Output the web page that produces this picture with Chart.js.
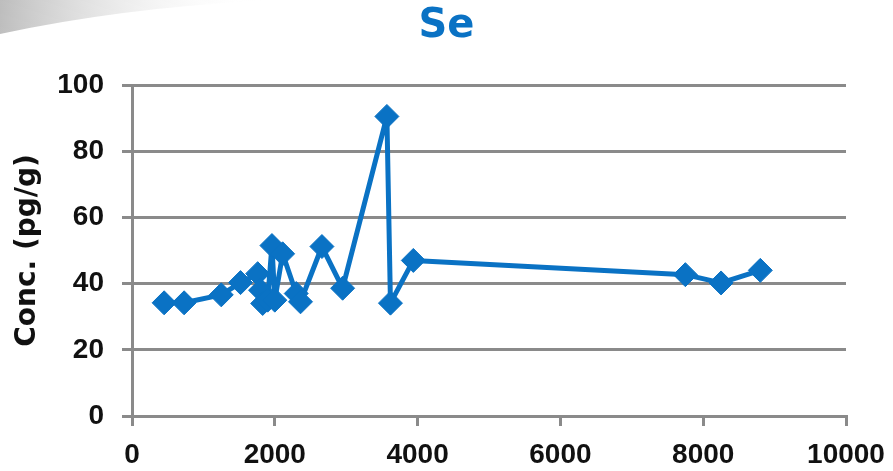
<!DOCTYPE html>
<html>
<head>
<meta charset="utf-8">
<script src="https://cdn.jsdelivr.net/npm/chart.js@4"></script>
<style>
  html, body { margin: 0; padding: 0; background: #fff; }
  #wrap { width: 893px; height: 471px; position: relative; }
</style>
</head>
<body>
<div id="wrap"><canvas id="c" width="893" height="471"></canvas></div>
<script>
// Se concentration vs. sample position
const xValues = [450, 730, 1250, 1520, 1760, 1800, 1830, 1900, 1960, 2000, 2110, 2300, 2360, 2660, 2950, 3570, 3620, 3940, 7750, 8250, 8800];
const seConc  = [34.2, 34.2, 36.6, 40.3, 43, 38, 34, 35, 51.5, 35, 49, 37, 34.5, 51.2, 38.6, 90.5, 34.1, 47, 42.7, 40.2, 44];
const xTicks = [0, 2000, 4000, 6000, 8000, 10000];
const yTicks = [0, 20, 40, 60, 80, 100];

const points = xValues.map((x, i) => ({ x: x, y: seConc[i] }));
const BLUE = '#0a72c4';
const GRID = '#8a8a8a';

// faint grey sweep in the upper-left corner of the slide
const cornerSweep = {
  id: 'cornerSweep',
  beforeDraw(chart) {
    const ctx = chart.ctx;
    ctx.save();
    const g = ctx.createLinearGradient(0, 0, 260, 20);
    g.addColorStop(0, '#bdbdbd');
    g.addColorStop(1, 'rgba(255,255,255,0)');
    ctx.fillStyle = g;
    ctx.beginPath();
    ctx.moveTo(0, 0);
    ctx.lineTo(270, 0);
    ctx.quadraticCurveTo(120, 8, 0, 34);
    ctx.closePath();
    ctx.fill();
    ctx.restore();
  }
};

new Chart(document.getElementById('c'), {
  type: 'scatter',
  data: {
    datasets: [{
      label: 'Se',
      data: points,
      showLine: true,
      borderColor: BLUE,
      backgroundColor: BLUE,
      borderWidth: 5,
      borderJoinStyle: 'round',
      borderCapStyle: 'round',
      pointStyle: 'rectRot',
      pointRadius: 12,
      pointHoverRadius: 12,
      pointBorderWidth: 1,
      pointBorderColor: BLUE,
      tension: 0
    }]
  },
  plugins: [cornerSweep],
  options: {
    responsive: false,
    animation: false,
    devicePixelRatio: 1,
    // equal side padding keeps the title centred on the canvas
    layout: { padding: { left: 47, right: 47, top: 0, bottom: 0 } },
    plugins: {
      legend: { display: false },
      tooltip: { enabled: false },
      title: {
        display: true,
        text: 'Se',
        color: BLUE,
        font: { family: 'DejaVu Sans', size: 40, weight: 'bold', lineHeight: 1.2 },
        padding: { top: 3, bottom: 34 }
      }
    },
    scales: {
      x: {
        type: 'linear',
        min: 0, max: 10000,
        afterBuildTicks: s => { s.ticks = xTicks.map(v => ({ value: v })); },
        afterFit: s => { s.height = 55; s.paddingLeft = 0; s.paddingRight = 0; },
        ticks: {
          color: '#111',
          font: { family: 'Liberation Sans', size: 28, weight: 'bold' },
          padding: 12,
          maxRotation: 0,
          callback: v => String(v)
        },
        grid: {
          drawOnChartArea: false,
          drawTicks: true,
          tickLength: 10,
          color: GRID,
          lineWidth: 3
        },
        border: { display: true, color: GRID, width: 3 }
      },
      y: {
        type: 'linear',
        min: 0, max: 100,
        afterBuildTicks: s => { s.ticks = yTicks.map(v => ({ value: v })); },
        afterFit: s => { s.width = 85; },
        title: {
          display: true,
          text: 'Conc. (pg/g)',
          color: '#111',
          font: { family: 'DejaVu Sans', size: 28, weight: 'bold', lineHeight: 1.2 },
          padding: { top: -36, bottom: 0 }
        },
        ticks: {
          color: '#111',
          font: { family: 'Liberation Sans', size: 28, weight: 'bold' },
          padding: 18,
          callback: v => String(v)
        },
        grid: {
          drawOnChartArea: true,
          drawTicks: true,
          tickLength: 10,
          color: GRID,
          lineWidth: 3
        },
        border: { display: true, color: GRID, width: 3 }
      }
    }
  }
});
</script>
</body>
</html>
